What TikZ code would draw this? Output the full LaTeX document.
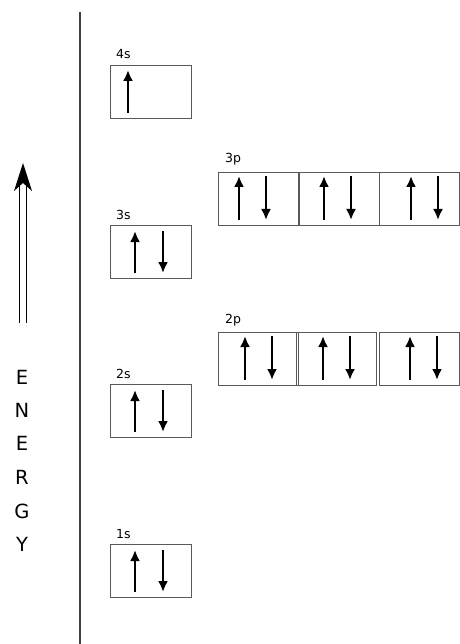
\documentclass[tikz,border=0pt]{standalone}
\usepackage{fontspec}
\setmainfont{DejaVu Sans}
\usetikzlibrary{arrows.meta}
\begin{document}
\begin{tikzpicture}[x=1pt,y=-1pt,
  orb/.style={draw=black!65,line width=0.8pt,minimum width=81pt,minimum height=53pt,inner sep=0pt,anchor=north west},
  porb/.style={orb,minimum width=80pt},
  lbl/.style={anchor=base west,inner sep=0pt,font=\fontsize{12.5}{14}\selectfont},
  spin/.style={line width=2.8pt,-{Latex[length=11pt,width=10pt]}},
  en/.style={inner sep=0pt,font=\fontsize{19.5}{22}\selectfont}]
\useasboundingbox (0,0) rectangle (459,644);
% axis line
\coordinate (axt) at (80,12);
\coordinate (axb) at (80,644);
\draw[black!75,line width=1.3pt] (axt) -- (axb);
% energy arrow
\draw[line width=1.2pt] (19.5,323) -- (19.5,184) (26.5,323) -- (26.5,184);
\fill (23,163) -- (14,191) -- (23,183) -- (32,191) -- cycle;
% ENERGY
\foreach \l/\y [count=\i] in {E/377,N/410,E/443,R/477,G/511,Y/544}
  \node[en] (e\i) at (22,\y) {\l};
% s orbitals
\node[orb] (s4) at (110,65) {};
\node[orb] (s3) at (110,225) {};
\node[orb] (s2) at (110,384) {};
\node[orb] (s1) at (110,544) {};
\node[lbl] (l4s) at (116,59) {4s};
\node[lbl] (l3s) at (116,219) {3s};
\node[lbl] (l2s) at (116,378) {2s};
\node[lbl] (l1s) at (116,538) {1s};
% p orbitals
\node[porb] (p3a) at (218,172) {};
\node[porb] (p3b) at (299,172) {};
\node[porb] (p3c) at (379,172) {};
\node[porb] (p2a) at (218,332) {};
\node[porb,minimum width=78pt] (p2b) at (298,332) {};
\node[porb] (p2c) at (379,332) {};
\draw[black!65,line width=0.8pt] (296,332) -- (296,385);
\node[lbl] (l3p) at (225,163) {3p};
\node[lbl] (l2p) at (225,323) {2p};
% spins
\draw[spin] (128,113) -- (128,70);
\foreach \y in {225,384,544}{
  \draw[spin] (135,\y+48) -- (135,\y+6);
  \draw[spin] (163,\y+6) -- (163,\y+48);
}
\foreach \xu/\xd in {239/266,324/351,411/438}{
  \draw[spin] (\xu,220) -- (\xu,176);
  \draw[spin] (\xd,176) -- (\xd,220);
}
\foreach \xu/\xd in {245/272,323/350,410/437}{
  \draw[spin] (\xu,380) -- (\xu,336);
  \draw[spin] (\xd,336) -- (\xd,380);
}
\end{tikzpicture}
\end{document}
